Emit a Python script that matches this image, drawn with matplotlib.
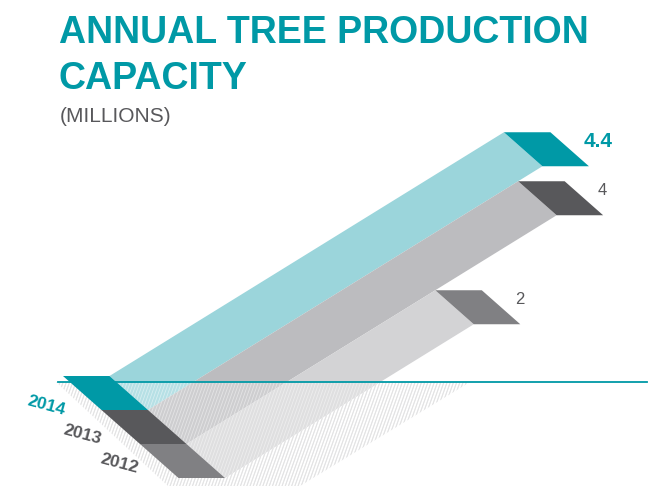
import matplotlib
matplotlib.use("Agg")
import matplotlib.pyplot as plt
import numpy as np
from matplotlib.patches import Polygon, Rectangle
from matplotlib.collections import LineCollection

years = ["2014", "2013", "2012"]
capacity = [4.4, 4, 2]
value_labels = ["4.4", "4", "2"]

TEAL = "#0099a6"
GREY_TXT = "#58585b"
cap_colors = [TEAL, "#58585b", "#808083"]
ribbon_colors = ["#9bd5db", "#bcbcbf", "#d3d3d5"]
label_colors = [TEAL, GREY_TXT, GREY_TXT]

# oblique layout in pixel units (y grows downward)
ORIGIN = np.array([63.0, 376.0])   # top-left corner of first base cap
ROW = np.array([38.5, 34.0])       # shift from one year to the next
CAP_W = 46.5
SLOPE = 0.618                      # rise / run of the ribbons
FLOOR_Y = 382
# linear value scale for the ribbon rise
SCALE_START = -2.1
PX_PER_UNIT = 37.5


def cap(top_left):
    tl = np.asarray(top_left)
    return [tl, tl + [CAP_W, 0], tl + [CAP_W, 0] + ROW, tl + ROW]


fig = plt.figure(figsize=(6.51, 4.94), dpi=100)
ax = fig.add_axes([0, 0, 1, 1])
ax.set_xlim(0, 651)
ax.set_ylim(494, 0)
ax.axis("off")

# floor shadow hatch
shadow = Polygon([(56, FLOOR_Y), (168, 486), (300, 486), (470, FLOOR_Y)],
                 closed=True, facecolor="none", edgecolor="none")
ax.add_patch(shadow)
xs = np.arange(-60, 700, 3.2)
hatch = LineCollection([[(x, 494), (x + 40, FLOOR_Y)] for x in xs],
                       colors="#bebec0", linewidths=0.7, zorder=1)
hatch.set_clip_path(shadow)
ax.add_collection(hatch)

for i, (yr, v) in enumerate(zip(years, capacity)):
    base_tl = ORIGIN + i * ROW
    base_tr = base_tl + [CAP_W, 0]
    rise = (v - SCALE_START) * PX_PER_UNIT
    end_tl = base_tr + [rise / SLOPE, -rise]

    ribbon = [base_tr, end_tl, end_tl + ROW, base_tr + ROW]
    ax.add_patch(Polygon(ribbon, closed=True, facecolor=ribbon_colors[i],
                         edgecolor="none", zorder=2))
    ax.add_patch(Polygon(cap(base_tl), closed=True, facecolor=cap_colors[i],
                         edgecolor="none", zorder=4))
    ax.add_patch(Polygon(cap(end_tl), closed=True, facecolor=cap_colors[i],
                         edgecolor="none", zorder=4))

    lab = end_tl + [CAP_W + 33, 9]
    ax.text(lab[0], lab[1], value_labels[i], color=label_colors[i],
            fontsize=15 if i == 0 else 12,
            fontweight="bold" if i == 0 else "normal",
            family="Liberation Sans", ha="left", va="center", zorder=6)

    ypos = base_tl + [-17, 30] - i * np.array([2, 5])
    ax.text(ypos[0], ypos[1], yr, color=label_colors[i], fontsize=12.5,
            fontweight="bold", family="Liberation Sans", rotation=-15,
            ha="center", va="center", zorder=6)

# reflection below the floor line
ax.add_patch(Rectangle((0, FLOOR_Y), 651, 494 - FLOOR_Y, facecolor="white",
                       alpha=0.28, edgecolor="none", zorder=3))
dots = LineCollection([[(x, 494), (x + 40, FLOOR_Y)] for x in xs],
                      colors="white", linewidths=0.6, alpha=0.45, zorder=3)
ax.add_collection(dots)

ax.plot([58, 647], [FLOOR_Y, FLOOR_Y], color=TEAL, lw=1.3, zorder=5)

ax.text(59, 43, "ANNUAL TREE PRODUCTION", color=TEAL, fontsize=27,
        fontweight="bold", family="Liberation Sans", va="baseline")
ax.text(59, 89, "CAPACITY", color=TEAL, fontsize=27,
        fontweight="bold", family="Liberation Sans", va="baseline")
ax.text(60, 122, "(MILLIONS)", color=GREY_TXT, fontsize=15,
        family="Liberation Sans", va="baseline")

fig.savefig("out.png", dpi=100)
